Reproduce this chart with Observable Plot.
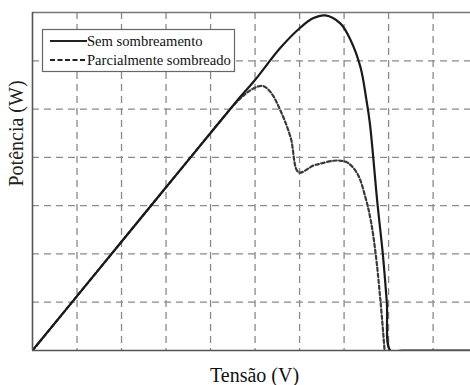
<!DOCTYPE html>
<html>
<head>
<meta charset="utf-8">
<script src="https://cdn.jsdelivr.net/npm/d3@7"></script>
<script src="https://cdn.jsdelivr.net/npm/@observablehq/plot@0.6"></script>
<style>
  html, body { margin: 0; padding: 0; background: #fff; }
  #chart { position: relative; width: 470px; height: 385px; overflow: hidden; }
  #chart svg { display: block; }
</style>
</head>
<body>
<div id="chart"></div>
<script>
// Voltage (grid units) and power (grid units)
const solidV = [0, 1.5, 3.0, 4.3, 4.6, 4.98, 5.57, 6.02, 6.3, 6.58, 6.92, 7.15, 7.37, 7.5, 7.58, 7.75, 7.87, 7.96, 8.04, 8.3, 9.84];
const solidP = [0, 1.69, 3.38, 4.84, 5.18, 5.58, 6.27, 6.69, 6.88, 6.94, 6.77, 6.42, 5.86, 5.2, 4.7, 3.04, 2.0, 1.0, 0, 0, 0];

const dashV = [0, 1.5, 3.0, 4.2, 4.52, 4.74, 4.95, 5.17, 5.35, 5.57, 5.80, 5.98, 6.31, 6.47, 6.76, 6.92, 7.08, 7.30, 7.48, 7.60, 7.71, 7.82, 7.91];
const dashP = [0, 1.69, 3.38, 4.73, 5.08, 5.28, 5.42, 5.48, 5.35, 4.97, 4.41, 3.69, 3.83, 3.87, 3.93, 3.93, 3.89, 3.66, 3.17, 2.69, 2.0, 1.0, 0];

const xGrid = [1, 2, 3, 4, 5, 6, 7, 8, 9];
const yGrid = [1, 2, 3, 4, 5, 6];

const seriesNames = ["Sem sombreamento", "Parcialmente sombreado"];
const xLabel = "Tensão (V)";
const yLabel = "Potência (W)";

const solid = solidV.map((v, i) => ({v, p: solidP[i]}));
const dashed = dashV.map((v, i) => ({v, p: dashP[i]}));

const serif = "'Liberation Serif', 'Times New Roman', serif";

const chart = Plot.plot({
  width: 470,
  height: 385,
  marginLeft: 32,
  marginRight: 0,
  marginTop: 12,
  marginBottom: 35,
  style: {background: "#fff", fontFamily: serif},
  x: {domain: [0, 9.84], axis: null},
  y: {domain: [0, 7], axis: null},
  marks: [
    Plot.gridX(xGrid, {stroke: "#8a8a8a", strokeOpacity: 1, strokeWidth: 1.3, strokeDasharray: "7,5"}),
    Plot.gridY(yGrid, {stroke: "#8a8a8a", strokeOpacity: 1, strokeWidth: 1.3, strokeDasharray: "7,5"}),
    Plot.ruleY([7], {stroke: "#777", strokeWidth: 1.5}),
    Plot.line(dashed, {x: "v", y: "p", stroke: "#3a3a3a", strokeWidth: 2.2, strokeDasharray: "3.5,2.5", curve: "catmull-rom", clip: true}),
    Plot.line(solid, {x: "v", y: "p", stroke: "#1a1a1a", strokeWidth: 2.2, curve: "catmull-rom", clip: true}),
    Plot.ruleX([0], {stroke: "#555", strokeWidth: 1.6}),
    Plot.ruleY([0], {stroke: "#555", strokeWidth: 1.6}),
    Plot.text([xLabel], {frameAnchor: "bottom", dx: 3, dy: 31, lineAnchor: "bottom", fontSize: 20, fontFamily: serif, fill: "#111"}),
    Plot.text([yLabel], {frameAnchor: "left", rotate: -90, dx: -10, dy: 5, lineAnchor: "bottom", fontSize: 20, fontFamily: serif, fill: "#222"})
  ]
});

document.getElementById("chart").appendChild(chart);

// Legend
const svg = d3.select(chart);
const lg = svg.append("g").attr("font-family", serif).attr("font-size", 14.6)
  .attr("fill", "#111").attr("text-anchor", "start");
lg.append("rect").attr("x", 42.5).attr("y", 29.5).attr("width", 192).attr("height", 42)
  .attr("fill", "#fff").attr("stroke", "#666").attr("stroke-width", 1.2);
const entries = [
  {name: seriesNames[0], dash: "none", y: 41},
  {name: seriesNames[1], dash: "5,2.5", y: 60}
];
entries.forEach(e => {
  lg.append("line").attr("x1", 50).attr("x2", 87).attr("y1", e.y).attr("y2", e.y)
    .attr("stroke", "#222").attr("stroke-width", 2).attr("stroke-dasharray", e.dash);
  lg.append("text").attr("x", 87).attr("y", e.y + 5).attr("text-anchor", "start").text(e.name);
});
</script>
</body>
</html>
